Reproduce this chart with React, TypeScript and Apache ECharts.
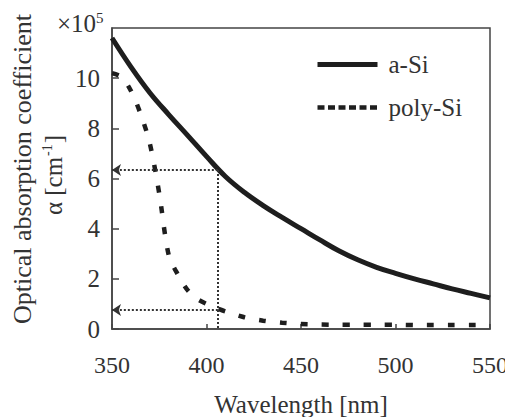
import React, { useEffect, useRef } from "react";
import * as echarts from "echarts";

// a-Si (solid), unit ×10^5 cm^-1
const aSiWavelengths = [350, 360, 370, 380, 390, 400, 410, 420, 430, 440, 450, 460, 470, 480, 490, 500, 510, 520, 530, 540, 550];
const aSiValues = [11.6, 10.45, 9.42, 8.55, 7.72, 6.88, 6.08, 5.45, 4.92, 4.45, 4.0, 3.55, 3.12, 2.76, 2.46, 2.22, 2.0, 1.8, 1.6, 1.42, 1.24];

// poly-Si (dashed)
const polyWavelengths = [350, 355, 360, 365, 370, 375, 380, 385, 390, 395, 400, 405, 410, 420, 430, 440, 450, 460, 470, 480, 490, 500, 510, 520, 530, 540, 550];
const polyValues = [10.2, 10.05, 9.5, 8.6, 7.4, 5.4, 2.95, 2.15, 1.55, 1.2, 1.0, 0.84, 0.7, 0.47, 0.33, 0.25, 0.2, 0.18, 0.17, 0.17, 0.17, 0.17, 0.16, 0.16, 0.16, 0.16, 0.17];

// annotation (dotted guides with arrows)
const markWavelength = 406;
const markASi = 6.34;
const markPoly = 0.76;

const seriesNames = ["a-Si", "poly-Si"];
const xTickMin = 350;
const xTickMax = 550;
const xTickStep = 50;
const yTickMin = 0;
const yTickMax = 12;
const yTickStep = 2;

const FONT = "'Liberation Serif', 'Times New Roman', serif";
const INK = "#1e1e1e";
const TEXT = "#333";
const HIDDEN = { color: "rgba(0,0,0,0)", borderWidth: 0, opacity: 0 };

export default function App() {
  const ref = useRef<HTMLDivElement>(null);
  useEffect(() => {
    if (!ref.current) return;
    const chart = echarts.init(ref.current, null, { renderer: "svg" });
    const pair = (xs: number[], ys: number[]) => xs.map((x, i) => [x, ys[i]]);
    chart.setOption({
      animation: false,
      backgroundColor: "#fff",
      grid: {
        left: 112,
        right: 15,
        top: 28,
        bottom: 88,
        outerBoundsMode: "none",
        containLabel: false,
        show: true,
        borderColor: "#444",
        borderWidth: 1.5,
      },
      legend: {
        orient: "vertical",
        left: 315,
        top: 52,
        padding: 0,
        itemWidth: 60,
        itemHeight: 20,
        itemGap: 18,
        itemStyle: HIDDEN,
        textStyle: { fontFamily: FONT, fontSize: 25, color: TEXT, lineHeight: 24, padding: [0, 0, 0, 6] },
        data: [
          { name: seriesNames[0], itemStyle: HIDDEN, lineStyle: { width: 5, type: "solid" } },
          { name: seriesNames[1], itemStyle: HIDDEN, lineStyle: { width: 4.5, type: [7, 3.5] } },
        ],
      },
      xAxis: {
        type: "value",
        min: xTickMin,
        max: xTickMax,
        interval: xTickStep,
        name: "Wavelength [nm]",
        nameLocation: "middle",
        nameGap: 62,
        nameTextStyle: { fontFamily: FONT, fontSize: 25, color: TEXT, lineHeight: 26 },
        axisLine: { show: true, lineStyle: { color: "#444", width: 1.5 } },
        axisTick: { show: true, inside: true, length: 5, lineStyle: { color: "#444", width: 1.5 } },
        axisLabel: { fontFamily: FONT, fontSize: 24, color: TEXT, margin: 24 },
        splitLine: { show: false },
      },
      yAxis: {
        type: "value",
        min: yTickMin,
        max: yTickMax,
        interval: yTickStep,
        axisLine: { show: true, lineStyle: { color: "#444", width: 1.5 } },
        axisTick: { show: true, inside: true, length: 7, lineStyle: { color: "#444", width: 1.5 } },
        axisLabel: { fontFamily: FONT, fontSize: 25, color: TEXT, margin: 12, showMaxLabel: false },
        splitLine: { show: false },
      },
      graphic: [
        {
          type: "text",
          x: 22,
          y: 169,
          rotation: Math.PI / 2,
          style: {
            text: "Optical absorption coefficient",
            font: `26px ${FONT}`,
            fill: TEXT,
            align: "center",
            verticalAlign: "middle",
          },
        },
        {
          type: "text",
          x: 53,
          y: 175,
          rotation: Math.PI / 2,
          style: {
            text: "{n|α [cm}{s|-1}{n|]}",
            fill: TEXT,
            align: "center",
            verticalAlign: "middle",
            rich: {
              n: { fontFamily: FONT, fontSize: 25, color: TEXT },
              s: { fontFamily: FONT, fontSize: 14, color: TEXT, verticalAlign: "top", padding: [0, 1, 10, 1] },
            },
          },
        },
        {
          type: "text",
          x: 57,
          y: 23,
          style: {
            text: "{n|×10}{s|5}",
            fill: TEXT,
            align: "left",
            verticalAlign: "middle",
            rich: {
              n: { fontFamily: FONT, fontSize: 25, color: TEXT },
              s: { fontFamily: FONT, fontSize: 15, color: TEXT, verticalAlign: "top", padding: [0, 0, 10, 0] },
            },
          },
        },
      ],
      series: [
        {
          name: seriesNames[0],
          type: "line",
          data: pair(aSiWavelengths, aSiValues),
          smooth: 0.4,
          symbol: "none",
          lineStyle: { color: INK, width: 5 },
          itemStyle: { color: INK },
          z: 3,
        },
        {
          name: seriesNames[1],
          type: "line",
          data: pair(polyWavelengths, polyValues),
          smooth: 0.3,
          symbol: "none",
          lineStyle: { color: INK, width: 4.5, type: [7, 14] },
          itemStyle: { color: INK },
          z: 3,
          markLine: {
            silent: true,
            animation: false,
            label: { show: false },
            lineStyle: { color: "#333", width: 2, type: [2, 2] },
            symbolSize: [9, 9],
            data: [
              [
                { coord: [markWavelength, markASi], symbol: "none" },
                { coord: [xTickMin, markASi], symbol: "arrow" },
              ],
              [
                { coord: [markWavelength, markPoly], symbol: "none" },
                { coord: [xTickMin, markPoly], symbol: "arrow" },
              ],
              [
                { coord: [markWavelength, markASi], symbol: "none" },
                { coord: [markWavelength, yTickMin], symbol: "none" },
              ],
            ],
          },
        },
      ],
    });
    return () => chart.dispose();
  }, []);
  return (
    <div
      ref={ref}
      style={{ position: "absolute", left: 0, top: 0, width: 505, height: 417 }}
    />
  );
}
